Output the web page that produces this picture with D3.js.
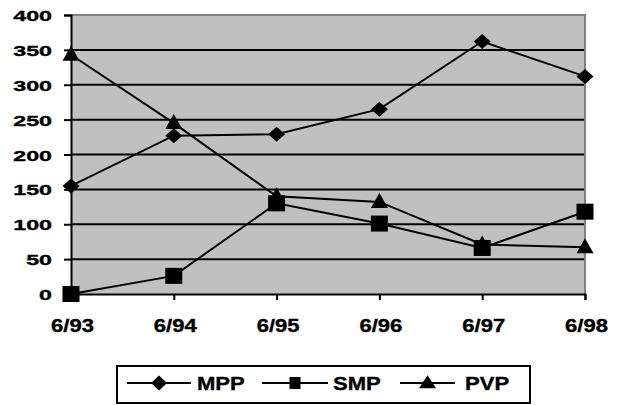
<!DOCTYPE html>
<html>
<head>
<meta charset="utf-8">
<script src="https://cdn.jsdelivr.net/npm/d3@7"></script>
<style>
  html, body { margin: 0; padding: 0; background: #fff; }
  svg { display: block; }
</style>
</head>
<body>
<svg id="chart" width="622" height="405"></svg>
<script>
const categories = ["6/93", "6/94", "6/95", "6/96", "6/97", "6/98"];
const mpp = [155, 227, 229, 265, 362, 312];
const smp = [0, 26, 130, 101, 66, 118];
const pvp = [343, 245, 140, 132, 71, 67];
const seriesNames = ["MPP", "SMP", "PVP"];
const yTicks = [0, 50, 100, 150, 200, 250, 300, 350, 400];

const series = [
  { name: seriesNames[0], values: mpp, symbol: "diamond" },
  { name: seriesNames[1], values: smp, symbol: "square" },
  { name: seriesNames[2], values: pvp, symbol: "triangle" }
];

const FONT = "'Liberation Sans', Arial, Helvetica, sans-serif";
function boldText(sel, size) {
  sel.style("font-family", FONT).style("font-weight", "700")
     .style("font-size", size + "px").style("fill", "#000")
     .style("stroke", "#000").style("stroke-width", "0.35px");
}

const svg = d3.select("#chart");
const pL = 71, pR = 585, pT = 15, pB = 294;

const x = d3.scalePoint().domain(categories).range([pL, pR]);
const y = d3.scaleLinear().domain([0, 400]).range([pB, pT]);

// plot background
svg.append("rect").attr("x", pL).attr("y", pT)
  .attr("width", pR - pL).attr("height", pB - pT)
  .attr("fill", "#c0c0c0");

// gridlines
svg.append("g").selectAll("line").data(yTicks.filter(d => d > 0 && d < 400)).join("line")
  .attr("x1", pL).attr("x2", pR)
  .attr("y1", d => y(d)).attr("y2", d => y(d))
  .attr("stroke", "#000").attr("stroke-width", 2);

// top & right border (gray)
svg.append("path")
  .attr("d", `M${pL},${pT}H${pR}V${pB}`)
  .attr("fill", "none").attr("stroke", "#808080").attr("stroke-width", 2);

// Y axis
const yAxis = d3.axisLeft(y).tickValues(yTicks).tickSize(7).tickPadding(0).tickFormat(d3.format("d"));
const gy = svg.append("g").attr("transform", `translate(${pL},0)`).call(yAxis);
gy.attr("font-family", null).attr("font-size", null);
gy.select(".domain").attr("stroke", "#000").attr("stroke-width", 2);
gy.selectAll(".tick line").attr("stroke", "#000").attr("stroke-width", 2);
gy.selectAll(".tick text").each(function() {
  const t = d3.select(this);
  t.attr("x", null).attr("dy", null).attr("text-anchor", "end")
   .attr("transform", "translate(-19,5.6) scale(1.5,1)");
  boldText(t, 15.5);
});

// X axis
const xAxis = d3.axisBottom(x).tickSize(6).tickPadding(0);
const gx = svg.append("g").attr("transform", `translate(0,${pB})`).call(xAxis);
gx.attr("font-family", null).attr("font-size", null);
gx.select(".domain").attr("stroke", "#000").attr("stroke-width", 2);
gx.selectAll(".tick line").attr("stroke", "#000").attr("stroke-width", 2);
gx.selectAll(".tick text").each(function() {
  const t = d3.select(this);
  t.attr("y", null).attr("dy", null).attr("text-anchor", "middle")
   .attr("transform", "translate(1,38) scale(1.26,1)");
  boldText(t, 17.5);
});

// lines
const line = d3.line().x((d, i) => x(categories[i])).y(d => y(d));
series.forEach(s => {
  svg.append("path").datum(s.values)
    .attr("d", line).attr("fill", "none")
    .attr("stroke", "#000").attr("stroke-width", 2);
});

function markerPath(sym, w, h) {
  if (sym === "diamond") return `M0,${-h/2}L${w/2},0L0,${h/2}L${-w/2},0Z`;
  if (sym === "square") return `M${-w/2},${-h/2}H${w/2}V${h/2}H${-w/2}Z`;
  return `M0,${-h*0.6}L${w/2},${h*0.4}H${-w/2}Z`;
}

series.forEach(s => {
  const sz = s.symbol === "diamond" ? [17, 15] : s.symbol === "square" ? [17, 16] : [17, 15];
  svg.append("g").selectAll("path").data(s.values).join("path")
    .attr("transform", (d, i) => `translate(${x(categories[i])},${y(d)})`)
    .attr("d", markerPath(s.symbol, sz[0], sz[1]))
    .attr("fill", "#000");
});

// legend
const lg = svg.append("g");
lg.append("rect").attr("x", 117).attr("y", 366).attr("width", 413).attr("height", 37)
  .attr("fill", "#fff").attr("stroke", "#000").attr("stroke-width", 2);
const legendItems = [
  { s: series[0], x0: 127, x1: 191, tx: 197, ms: [16, 15] },
  { s: series[1], x0: 262, x1: 328, tx: 333, ms: [11, 12] },
  { s: series[2], x0: 400, x1: 455, tx: 465, ms: [17, 13] }
];
const ly = 383;
legendItems.forEach(it => {
  lg.append("line").attr("x1", it.x0).attr("x2", it.x1).attr("y1", ly).attr("y2", ly)
    .attr("stroke", "#000").attr("stroke-width", 2);
  lg.append("path").attr("transform", `translate(${(it.x0 + it.x1) / 2},${ly})`)
    .attr("d", markerPath(it.s.symbol, it.ms[0], it.ms[1])).attr("fill", "#000");
  const t = lg.append("text").text(it.s.name)
    .attr("transform", `translate(${it.tx},390) scale(1.16,1)`);
  boldText(t, 19);
});
</script>
</body>
</html>
